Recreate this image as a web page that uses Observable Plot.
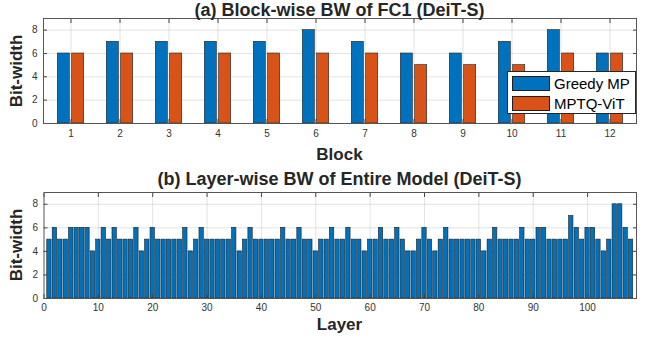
<!DOCTYPE html>
<html><head><meta charset="utf-8">
<script src="https://cdn.jsdelivr.net/npm/d3@7"></script>
<script src="https://cdn.jsdelivr.net/npm/@observablehq/plot@0.6"></script>
<style>
body{margin:0;background:#fff;}
#wrap{position:relative;width:645px;height:343px;overflow:hidden;background:#fff;font-family:"Liberation Sans",Arial,sans-serif;color:#262626;}
.chart{position:absolute;left:0;}
.title{position:absolute;left:43px;width:593px;text-align:center;font-weight:bold;font-size:18px;line-height:18px;white-space:nowrap;}
.xlabel{position:absolute;left:43px;width:593px;text-align:center;font-weight:bold;font-size:17px;line-height:17px;white-space:nowrap;}
.ylabel{position:absolute;font-weight:bold;font-size:17px;line-height:17px;white-space:nowrap;transform:translate(-50%,-50%) rotate(-90deg);}
#legend{position:absolute;left:507px;top:71px;width:129px;height:43px;border:1px solid #262626;background:#fff;box-sizing:border-box;}
.lg-row{position:absolute;left:4px;height:15px;}
.lg-sw{position:absolute;left:0;top:0;width:38px;height:15px;box-sizing:border-box;border:0.7px solid #1f1f1f;}
.lg-tx{position:absolute;left:42px;top:-1px;font-size:15px;line-height:17px;white-space:nowrap;color:#000;}
</style></head>
<body>
<div id="wrap">
  <div id="chartA" class="chart" style="top:0"></div>
  <div id="chartB" class="chart" style="top:170px"></div>
  <div class="title" style="top:1.2px">(a) Block-wise BW of FC1 (DeiT-S)</div>
  <div class="title" style="top:169.8px">(b) Layer-wise BW of Entire Model (DeiT-S)</div>
  <div class="xlabel" style="top:146px">Block</div>
  <div class="xlabel" style="top:315.6px">Layer</div>
  <div class="ylabel" style="left:16px;top:70.5px">Bit-width</div>
  <div class="ylabel" style="left:16px;top:245px">Bit-width</div>
  <div id="legend"></div>
</div>
<script>
// ---- Data ----
const blocks = [1, 2, 3, 4, 5, 6, 7, 8, 9, 10, 11, 12];
const greedyMP = [6, 7, 7, 7, 7, 8, 7, 6, 6, 7, 8, 6];
const mptqViT  = [6, 6, 6, 6, 6, 6, 6, 5, 5, 5, 6, 6];
const seriesNames = ["Greedy MP", "MPTQ-ViT"];
const seriesColors = ["#0072BD", "#D95319"];

const layerBW = [
  5, 6, 5, 5, 6, 6, 6, 6, 4, 5,
  6, 5, 6, 5, 5, 5, 6, 4, 5, 6,
  5, 5, 5, 5, 5, 6, 4, 5, 6, 5,
  5, 5, 5, 5, 6, 4, 5, 6, 5, 5,
  5, 5, 5, 6, 5, 5, 6, 5, 5, 4,
  5, 5, 6, 5, 5, 6, 5, 5, 4, 5,
  5, 6, 5, 5, 6, 5, 4, 4, 5, 6,
  5, 4, 5, 6, 5, 5, 5, 5, 5, 5,
  4, 5, 6, 5, 5, 5, 5, 6, 5, 5,
  6, 6, 5, 5, 5, 5, 7, 6, 5, 6,
  6, 5, 4, 5, 8, 8, 6, 5
];
const yTicks = [0, 2, 4, 6, 8];
const layerTicks = [0, 10, 20, 30, 40, 50, 60, 70, 80, 90, 100];

const font = {fontFamily: "Liberation Sans, Arial, sans-serif", fontSize: "10px", color: "#333", background: "transparent", overflow: "visible"};
const gridStyle = {stroke: "#262626", strokeOpacity: 0.13};

// ---- Chart A ----
const dataA = blocks.map((b, i) => ({block: b, greedy: greedyMP[i], mptq: mptqViT[i]}));
const chartA = Plot.plot({
  width: 645, height: 140,
  marginLeft: 43, marginRight: 9, marginTop: 18, marginBottom: 17,
  style: font,
  x: {type: "band", domain: blocks, padding: 0, label: null},
  y: {domain: [0, 9], label: null},
  marks: [
    Plot.gridX(blocks, gridStyle),
    Plot.gridY(yTicks.slice(1), gridStyle),
    Plot.barY(dataA, {x: "block", y: "greedy", fill: seriesColors[0], stroke: "#1f1f1f", strokeWidth: 0.6, dx: -7.2, insetLeft: 18.5, insetRight: 18.5}),
    Plot.barY(dataA, {x: "block", y: "mptq", fill: seriesColors[1], stroke: "#1f1f1f", strokeWidth: 0.6, dx: 7.2, insetLeft: 18.5, insetRight: 18.5}),
    Plot.axisX(blocks, {anchor: "bottom", tickSize: -4, tickPadding: 10, label: null, stroke: "#444"}),
    Plot.axisX(blocks, {anchor: "top", tickSize: -4, tickFormat: () => "", label: null, stroke: "#444"}),
    Plot.axisY(yTicks, {anchor: "left", tickSize: -4, tickPadding: 10, label: null, stroke: "#444"}),
    Plot.axisY(yTicks, {anchor: "right", tickSize: -4, tickFormat: () => "", label: null, stroke: "#444"}),
    Plot.frame({stroke: "#555"})
  ]
});
document.getElementById("chartA").append(chartA);

// ---- Chart B ----
const dataB = layerBW.map((v, i) => ({layer: i + 1, bw: v}));
const chartB = Plot.plot({
  width: 645, height: 145,
  marginLeft: 43.5, marginRight: 9, marginTop: 22, marginBottom: 17,
  style: font,
  x: {domain: [0, 109], label: null},
  y: {domain: [0, 9], label: null},
  marks: [
    Plot.gridX(layerTicks.slice(1), gridStyle),
    Plot.gridY(yTicks.slice(1), gridStyle),
    Plot.rectY(dataB, {x1: d => d.layer - 0.4, x2: d => d.layer + 0.4, y1: 0, y2: "bw", fill: seriesColors[0], stroke: "#1f1f1f", strokeWidth: 0.6}),
    Plot.axisX(layerTicks, {anchor: "bottom", tickSize: -4, tickPadding: 9, label: null, stroke: "#444"}),
    Plot.axisX(layerTicks, {anchor: "top", tickSize: -4, tickFormat: () => "", label: null, stroke: "#444"}),
    Plot.axisY(yTicks, {anchor: "left", tickSize: -4, tickPadding: 10, label: null, stroke: "#444"}),
    Plot.axisY(yTicks, {anchor: "right", tickSize: -4, tickFormat: () => "", label: null, stroke: "#444"}),
    Plot.frame({stroke: "#555"})
  ]
});
document.getElementById("chartB").append(chartB);

// ---- Legend ----
const legend = document.getElementById("legend");
seriesNames.forEach((name, i) => {
  const row = document.createElement("div");
  row.className = "lg-row";
  row.style.top = (4 + i * 20) + "px";
  const sw = document.createElement("div");
  sw.className = "lg-sw";
  sw.style.background = seriesColors[i];
  const tx = document.createElement("div");
  tx.className = "lg-tx";
  tx.textContent = name;
  row.append(sw, tx);
  legend.append(row);
});
</script>
</body></html>
